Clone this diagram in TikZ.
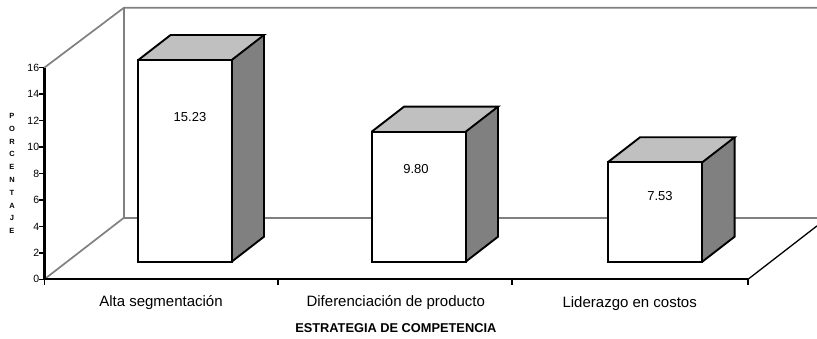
\documentclass[tikz,border=0pt]{standalone}
\usepackage{fontspec}
\setmainfont{Liberation Sans}
\definecolor{topgray}{RGB}{192,192,192}
\definecolor{sidegray}{RGB}{128,128,128}
\definecolor{wallgray}{RGB}{128,128,128}
\begin{document}
\begin{tikzpicture}[x=1pt,y=-1pt,
  wall/.style={draw=wallgray,line width=1.7pt},
  axisline/.style={draw=black,line width=2.4pt},
  tickline/.style={draw=black,line width=1.4pt},
  barline/.style={draw=black,line width=1.9pt,line join=miter},
  ticklabel/.style={anchor=east,inner sep=0pt,font=\fontsize{10.5}{12}\selectfont},
  catlabel/.style={inner sep=0pt,font=\fontsize{15}{18}\selectfont},
  vallabel/.style={inner sep=0pt,font=\fontsize{13}{15}\selectfont},
  titlelabel/.style={inner sep=0pt,font=\fontsize{12.8}{15}\selectfont\bfseries},
  ylabel/.style={inner sep=0pt,align=center,font=\fontsize{7.5}{12.8}\selectfont\bfseries}]
\useasboundingbox (0,0) rectangle (817,339);
% corners of the box
\coordinate (fbl) at (44.3,279.3);
\coordinate (ftl) at (44.3,67.7);
\coordinate (bbl) at (124,217.7);
\coordinate (btl) at (124,7.7);
\coordinate (btr) at (817,7.7);
\coordinate (bbr) at (817,217.7);
\coordinate (fbr) at (748,279.3);
\coordinate (rcut) at (817,225.9);
% back wall and side wall
\draw[wall] (ftl) -- (btl) -- (btr);
\draw[wall] (btl) -- (bbl) -- (bbr);
\draw[wall] (fbl) -- (bbl);
\draw[black,line width=1.3pt] (fbr) -- (rcut);
% bars
\foreach \L/\R/\T/\n in {138.3/231.7/60/1, 371.7/465.7/131.7/2, 607.7/702.3/162.3/3}{
  \coordinate (b\n a) at (\L,\T);
  \coordinate (b\n b) at (\R,\T);
  \coordinate (b\n c) at (\R,261.7);
  \coordinate (b\n d) at (\L,261.7);
  \fill[white] (b\n a) -- (b\n b) -- (b\n c) -- (b\n d) -- cycle;
  \fill[topgray] (b\n a) -- ++(32.3,-25) -- ([shift={(32.3,-25)}]b\n b) -- (b\n b) -- cycle;
  \fill[sidegray] (b\n b) -- ++(32.3,-25) -- ([shift={(32.3,-25)}]b\n c) -- (b\n c) -- cycle;
  \draw[barline] (b\n a) -- (b\n b) -- (b\n c) -- (b\n d) -- cycle;
  \draw[barline] (b\n a) -- ++(32.3,-25) -- ([shift={(32.3,-25)}]b\n b) -- (b\n b);
  \draw[barline] ([shift={(32.3,-25)}]b\n b) -- ([shift={(32.3,-25)}]b\n c) -- (b\n c);
}
% axes
\draw[axisline] (ftl) -- (fbl) -- (fbr);
\foreach \v [count=\i from 0] in {0,2,...,16}{
  \draw[tickline] (39.3,{279.3-26.45*\i}) -- (44.3,{279.3-26.45*\i});
  \node[ticklabel] (t\v) at (39.3,{279.3-26.45*\i}) {\v};
}
\foreach \x in {44.3,278,512,748}{
  \draw[tickline] (\x,279.3) -- (\x,284.8);
}
% labels
\node[vallabel] (v1) at (190,117) {15.23};
\node[vallabel] (v2) at (416,169.3) {9.80};
\node[vallabel] (v3) at (660,196) {7.53};
\node[catlabel] (c1) at (161,302.7) {Alta segmentación};
\node[catlabel] (c2) at (395.8,302.7) {Diferenciación de producto};
\node[catlabel] (c3) at (629.7,303.3) {Liderazgo en costos};
\node[titlelabel] (xt) at (395.8,327.7) {ESTRATEGIA DE COMPETENCIA};
\node[ylabel] (yt) at (12,173.5) {P\\O\\R\\C\\E\\N\\T\\A\\J\\E};
\end{tikzpicture}
\end{document}
